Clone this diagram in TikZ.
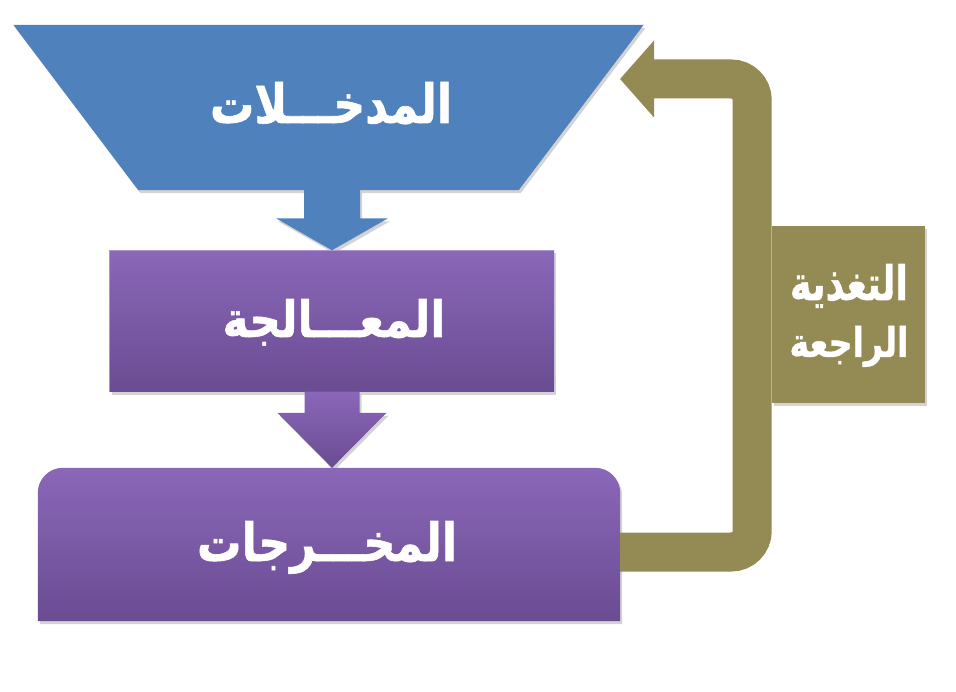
\documentclass[tikz,border=0pt]{standalone}
\usepackage{fontspec}
\newfontfamily\arabicfont[Script=Arabic, BoldFeatures={FakeBold=1.2}]{DejaVu Sans}
\TeXXeTstate=1
\usetikzlibrary{calc,shadows,arrows.meta}
\definecolor{inblue}{HTML}{4F81BD}
\definecolor{ptop}{HTML}{8A67B8}
\definecolor{pbot}{HTML}{6A4C92}
\definecolor{olive}{HTML}{948A54}
\newcommand\artext[3]{\resizebox{#1}{#2}{\arabicfont\bfseries\beginR #3\endR}}
\tikzset{
  boxnode/.style={inner sep=0pt},
  lbl/.style={inner sep=0pt, anchor=base, text=white},
  shad/.style={drop shadow={shadow xshift=2pt, shadow yshift=-3pt, opacity=0.35}},
  purplefill/.style={top color=ptop, bottom color=pbot},
  fbline/.style={draw=olive, line width=39pt, rounded corners=21pt,
    -{Triangle[length=34pt,width=75pt]}},
}
\begin{document}
\begin{tikzpicture}[x=1pt,y=-1pt]
\useasboundingbox (0,0) rectangle (956,692);
% container nodes
\node[boxnode, minimum width=630pt, minimum height=165pt] (inp) at (328.5,107.5) {};
\node[boxnode, minimum width=444pt, minimum height=141pt] (proc) at (332,321) {};
\node[boxnode, minimum width=582pt, minimum height=153pt] (out) at (329,544.5) {};
\node[boxnode, minimum width=153pt, minimum height=177pt] (fb) at (848.5,314.5) {};
\coordinate (fbtip) at (620,79);
% input trapezoid
\fill[inblue, shad] (inp.north west) -- (inp.north east) -- ([xshift=-125pt]inp.south east)
  -- ([xshift=125pt]inp.south west) -- cycle;
% blue block arrow
\fill[inblue, shad] ($(inp.south -| proc.north)+(-28pt,0pt)$) -- ($(proc.north)+(-28pt,32pt)$)
  -- ($(proc.north)+(-56pt,32pt)$) -- (proc.north) -- ($(proc.north)+(56pt,32pt)$)
  -- ($(proc.north)+(28pt,32pt)$) -- ($(inp.south -| proc.north)+(28pt,0pt)$) -- cycle;
% processing box
\shade[purplefill, shad] (proc.south west) rectangle (proc.north east);
\draw[ptop!70!white, line width=0.8pt] (proc.south west) -- (proc.north west) -- (proc.north east);
% purple block arrow
\shade[purplefill, shad] ($(proc.south)+(-27.5pt,0pt)$) -- ($(out.north -| proc.south)+(-27.5pt,55pt)$)
  -- ($(out.north -| proc.south)+(-54.5pt,55pt)$) -- (out.north -| proc.south)
  -- ($(out.north -| proc.south)+(54.5pt,55pt)$) -- ($(out.north -| proc.south)+(27.5pt,55pt)$)
  -- ($(proc.south)+(27.5pt,0pt)$) -- cycle;
% output box (rounded top corners)
\shade[purplefill, shad] (out.south west) {[rounded corners=25pt] -- (out.north west) -- (out.north east)} -- (out.south east) -- cycle;
% feedback loop
\draw[fbline] ([yshift=-7.5pt]out.east) -- ($(out.east)+(132pt,-7.5pt)$) |- (fbtip);
% feedback label box
\fill[olive, shad] (fb.south west) rectangle (fb.north east);
% texts
\node[lbl] (inptxt) at (331,123) {\artext{242pt}{41pt}{المدخـــلات}};
\node[lbl] (proctxt) at (334,337) {\artext{223pt}{38pt}{المعـــالجة}};
\node[lbl] (outtxt) at (327,561) {\artext{260pt}{40pt}{المخـــرجات}};
\node[lbl] (fbtxt1) at (849,300) {\artext{118pt}{36pt}{التغذية}};
\node[lbl] (fbtxt2) at (849,357) {\artext{119pt}{31pt}{الراجعة}};
\end{tikzpicture}
\end{document}
